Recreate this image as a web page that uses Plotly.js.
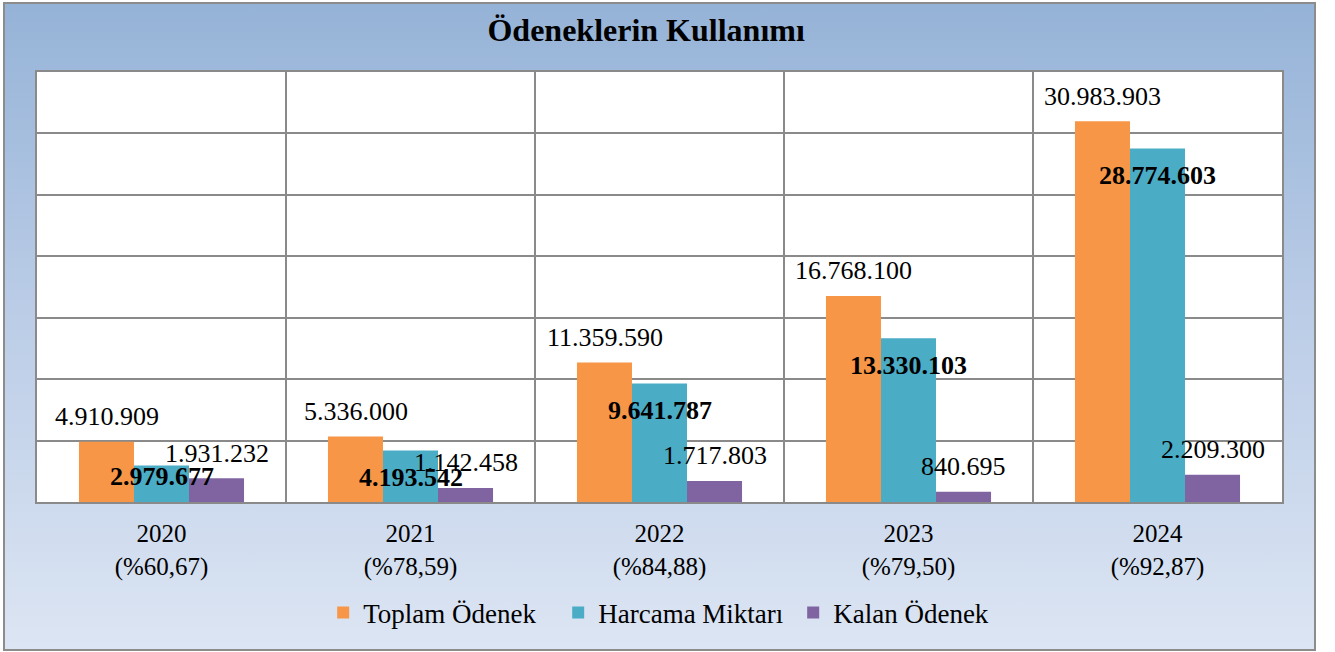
<!DOCTYPE html>
<html>
<head>
<meta charset="utf-8">
<script src="https://cdn.plot.ly/plotly-3.0.1.min.js"></script>
<style>
  html, body { margin: 0; padding: 0; background: #ffffff; }
  #wrap { position: relative; width: 1335px; height: 652px; overflow: hidden; }
  #bg { position: absolute; left: 3px; top: 2px; width: 1309px; height: 645px;
        border: 2px solid #8c8c8c;
        background: linear-gradient(to bottom, #95b3d7 0%, #b9cbe6 45%, #dce5f3 100%); }
  #chart { position: absolute; left: 0; top: 0; width: 1335px; height: 652px; }
</style>
</head>
<body>
<div id="wrap">
  <div id="bg"></div>
  <div id="chart"></div>
</div>
<script>
const years = ['2020', '2021', '2022', '2023', '2024'];
const usageRates = ['%60,67', '%78,59', '%84,88', '%79,50', '%92,87'];
const toplamOdenek = [4910909, 5336000, 11359590, 16768100, 30983903];
const harcamaMiktari = [2979677, 4193542, 9641787, 13330103, 28774603];
const kalanOdenek = [1931232, 1142458, 1717803, 840695, 2209300];
const seriesNames = ['Toplam Ödenek', 'Harcama Miktarı', 'Kalan Ödenek'];
const seriesColors = ['#F79646', '#4BACC6', '#8064A2'];

const categories = years.map((y, i) => y + '<br>(' + usageRates[i] + ')');
const seriesValues = [toplamOdenek, harcamaMiktari, kalanOdenek];

function fmt(v) {
  return String(v).replace(/\B(?=(\d{3})+(?!\d))/g, '.');
}

const FONT = "'Liberation Serif', serif";
const Y_MAX = 35000000;
const PLOT_H = 430;

const traces = seriesValues.map((vals, s) => ({
  type: 'bar',
  name: seriesNames[s],
  x: categories,
  y: vals,
  marker: { color: seriesColors[s], line: { width: 0 } },
  hoverinfo: 'skip'
}));

const barPx = 55;
const annotations = [];
seriesValues.forEach((vals, s) => {
  vals.forEach((v, i) => {
    const isMid = s === 1;
    let ys = 25;
    if (isMid) {
      const topPx = PLOT_H * v / Y_MAX;
      ys = Math.max(-27, 25 - topPx);
    }
    annotations.push({
      x: categories[i], y: v, xref: 'x', yref: 'y',
      text: isMid ? '<b>' + fmt(v) + '</b>' : fmt(v),
      showarrow: false,
      xanchor: 'center', yanchor: 'middle',
      xshift: (s - 1) * barPx,
      yshift: ys,
      font: { family: FONT, size: 26, color: '#000000' }
    });
  });
});

const layout = {
  width: 1335, height: 652,
  paper_bgcolor: 'rgba(0,0,0,0)',
  plot_bgcolor: '#ffffff',
  font: { family: FONT, color: '#000000' },
  margin: { l: 37, r: 53, t: 72, b: 150 },
  barmode: 'group',
  bargap: 0.337,
  bargroupgap: 0,
  title: {
    text: '<b>Ödeneklerin Kullanımı</b>',
    font: { family: FONT, size: 32, color: '#000000' },
    xref: 'container', x: 0.484, xanchor: 'center',
    yref: 'container', y: 1 - 30 / 652, yanchor: 'middle'
  },
  xaxis: {
    type: 'category',
    tickson: 'boundaries',
    showgrid: true, gridcolor: '#8a8a8a', gridwidth: 2,
    showline: true, linecolor: '#8a8a8a', linewidth: 2, mirror: true,
    ticks: 'outside', ticklen: 24, tickcolor: 'rgba(0,0,0,0)',
    ticklabelstandoff: 8,
    tickfont: { family: FONT, size: 25, color: '#000000' },
    zeroline: false, fixedrange: true
  },
  yaxis: {
    range: [0, Y_MAX], dtick: 5000000, tick0: 0,
    showgrid: true, gridcolor: '#8a8a8a', gridwidth: 2,
    showticklabels: false, ticks: '',
    showline: true, linecolor: '#8a8a8a', linewidth: 2, mirror: true,
    zeroline: false, fixedrange: true
  },
  legend: {
    orientation: 'h',
    x: 0.513, xanchor: 'center',
    y: -0.258, yanchor: 'middle',
    font: { family: FONT, size: 27, color: '#000000' },
    bgcolor: 'rgba(0,0,0,0)',
    entrywidth: 190,
    itemclick: false, itemdoubleclick: false
  },
  showlegend: true,
  annotations: annotations
};

Plotly.newPlot('chart', traces, layout, { displayModeBar: false, staticPlot: true });
</script>
</body>
</html>
